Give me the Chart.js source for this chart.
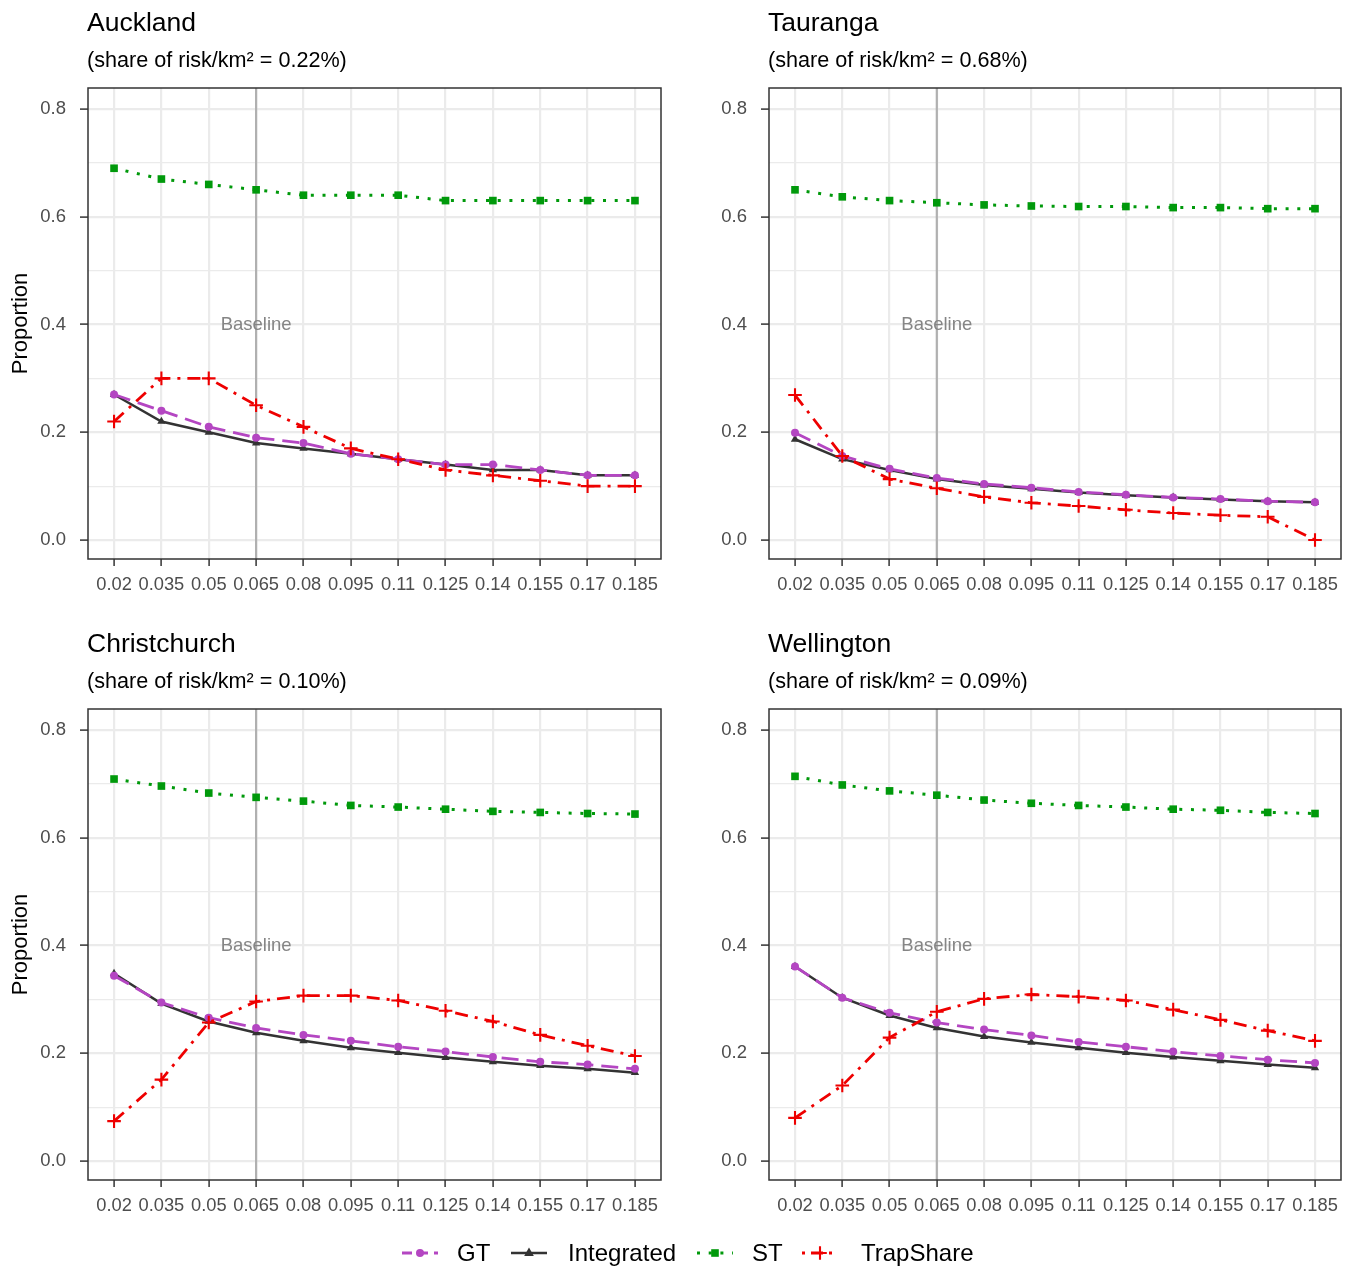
<!DOCTYPE html>
<html><head><meta charset="utf-8">
<script src="https://cdn.jsdelivr.net/npm/chart.js@4/dist/chart.umd.min.js"></script>
<style>
body{margin:0;background:#fff;width:1352px;height:1266px;position:relative;overflow:hidden;font-family:"Liberation Sans",Arial,Helvetica,sans-serif;}
canvas.p{position:absolute;}
.lt{position:absolute;font-size:24px;color:#000;line-height:30px;top:1238px;white-space:nowrap;}
canvas.lg{position:absolute;top:1238px;}
</style></head><body>
<canvas id="c1" class="p" width="676" height="621" style="left:0;top:0"></canvas>
<canvas id="c2" class="p" width="671" height="621" style="left:681px;top:0"></canvas>
<canvas id="c3" class="p" width="676" height="621" style="left:0;top:621px"></canvas>
<canvas id="c4" class="p" width="671" height="621" style="left:681px;top:621px"></canvas>

<canvas id="lg1" class="lg" width="40" height="30" style="left:400px"></canvas>
<div class="lt" style="left:457px">GT</div>
<canvas id="lg2" class="lg" width="40" height="30" style="left:509px"></canvas>
<div class="lt" style="left:568px">Integrated</div>
<canvas id="lg3" class="lg" width="40" height="30" style="left:695px"></canvas>
<div class="lt" style="left:752px">ST</div>
<canvas id="lg4" class="lg" width="40" height="30" style="left:800px"></canvas>
<div class="lt" style="left:861px">TrapShare</div>

<script>
const categories = ['0.02','0.035','0.05','0.065','0.08','0.095','0.11','0.125','0.14','0.155','0.17','0.185'];
const yTicks = [0,0.1,0.2,0.3,0.4,0.5,0.6,0.7,0.8];
const baselineIndex = 3;

const aucklandGT   = [0.27,0.24,0.21,0.19,0.18,0.16,0.15,0.14,0.14,0.13,0.12,0.12];
const aucklandInt  = [0.27,0.22,0.20,0.18,0.17,0.16,0.15,0.14,0.13,0.13,0.12,0.12];
const aucklandST   = [0.69,0.67,0.66,0.65,0.64,0.64,0.64,0.63,0.63,0.63,0.63,0.63];
const aucklandTrap = [0.22,0.30,0.30,0.25,0.21,0.17,0.15,0.13,0.12,0.11,0.10,0.10];

const taurangaGT   = [0.199,0.156,0.132,0.115,0.104,0.097,0.089,0.084,0.079,0.076,0.072,0.070];
const taurangaInt  = [0.187,0.150,0.130,0.113,0.102,0.095,0.088,0.083,0.079,0.075,0.072,0.070];
const taurangaST   = [0.650,0.637,0.630,0.626,0.622,0.620,0.619,0.619,0.617,0.617,0.615,0.615];
const taurangaTrap = [0.269,0.156,0.113,0.096,0.080,0.069,0.063,0.056,0.050,0.046,0.043,0.000];

const christGT   = [0.344,0.294,0.266,0.247,0.234,0.223,0.212,0.203,0.193,0.184,0.179,0.171];
const christInt  = [0.348,0.292,0.259,0.238,0.223,0.210,0.201,0.192,0.184,0.177,0.171,0.164];
const christST   = [0.709,0.696,0.683,0.675,0.668,0.660,0.657,0.653,0.649,0.647,0.645,0.644];
const christTrap = [0.074,0.151,0.257,0.296,0.307,0.307,0.298,0.279,0.259,0.234,0.214,0.195];

const wellGT   = [0.361,0.303,0.275,0.257,0.244,0.233,0.221,0.212,0.203,0.195,0.188,0.182];
const wellInt  = [0.361,0.303,0.270,0.247,0.231,0.220,0.210,0.201,0.193,0.186,0.179,0.173];
const wellST   = [0.714,0.698,0.687,0.679,0.670,0.664,0.660,0.657,0.653,0.651,0.647,0.645];
const wellTrap = [0.080,0.140,0.229,0.277,0.301,0.309,0.305,0.298,0.281,0.262,0.242,0.223];

const FONT = '"Liberation Sans", Arial, Helvetica, sans-serif';
const COL = {GT:'#B446C2', Int:'#333333', ST:'#00990B', Trap:'#EE0000'};

const decor = {
  id:'decor',
  beforeDatasetsDraw(chart, args, o){
    const ctx = chart.ctx, a = chart.chartArea;
    const x = chart.scales.x.getPixelForValue(baselineIndex);
    ctx.save();
    ctx.strokeStyle = '#b0b0b0'; ctx.lineWidth = 2.2;
    ctx.beginPath(); ctx.moveTo(x, a.top); ctx.lineTo(x, a.bottom); ctx.stroke();
    ctx.fillStyle = '#858585'; ctx.font = '18.5px ' + FONT;
    ctx.textAlign = 'center'; ctx.textBaseline = 'middle';
    ctx.fillText('Baseline', x, chart.scales.y.getPixelForValue(0.4));
    ctx.restore();
  },
  afterDraw(chart, args, o){
    const ctx = chart.ctx, a = chart.chartArea;
    ctx.save();
    ctx.strokeStyle = '#333333'; ctx.lineWidth = 1.5;
    ctx.strokeRect(a.left, a.top, a.right - a.left, a.bottom - a.top);
    ctx.fillStyle = '#000'; ctx.textAlign = 'left'; ctx.textBaseline = 'alphabetic';
    ctx.font = '26.5px ' + FONT;
    ctx.fillText(o.title, a.left - 1, 31);
    ctx.font = '21.6px ' + FONT;
    ctx.fillText(o.sub, a.left - 1, 67);
    if (o.ytitle) {
      ctx.translate(27, (a.top + a.bottom) / 2);
      ctx.rotate(-Math.PI / 2);
      ctx.textAlign = 'center';
      ctx.font = '22px ' + FONT;
      ctx.fillText('Proportion', 0, 0);
    }
    ctx.restore();
  }
};

function pts(arr){ return arr.map((v,i)=>({x:i, y:v})); }

function makeChart(id, title, sub, gt, integ, st, trap, ytitle, padRight){
  new Chart(document.getElementById(id), {
    type:'line',
    data:{datasets:[
      {label:'GT', data:pts(gt), borderColor:COL.GT, backgroundColor:COL.GT, borderWidth:2.8, borderDash:[17,8],
       pointStyle:'circle', pointRadius:4, pointBorderWidth:0, pointBackgroundColor:COL.GT, order:1},
      {label:'Integrated', data:pts(integ), borderColor:COL.Int, backgroundColor:COL.Int, borderWidth:2.5,
       pointStyle:'triangle', pointRadius:4.8, pointBorderWidth:0, pointBackgroundColor:COL.Int, order:2},
      {label:'ST', data:pts(st), borderColor:COL.ST, backgroundColor:COL.ST, borderWidth:3, borderDash:[3,8.7],
       pointStyle:'rect', pointRadius:5.4, pointBorderWidth:0, pointBackgroundColor:COL.ST, order:3},
      {label:'TrapShare', data:pts(trap), borderColor:COL.Trap, backgroundColor:COL.Trap, borderWidth:2.8, borderDash:[13,7,3,7],
       pointStyle:'cross', pointRadius:6.8, pointBorderWidth:2.1, pointBorderColor:COL.Trap, order:0}
    ]},
    options:{
      responsive:false, animation:false, devicePixelRatio:1,
      layout:{padding:{top:88, right:padRight, left:0, bottom:0}},
      plugins:{legend:{display:false}, tooltip:{enabled:false}, decor:{title, sub, ytitle}},
      elements:{line:{tension:0, fill:false}},
      scales:{
        x:{type:'linear', min:-0.55, max:11.55,
           afterBuildTicks:s=>{ s.ticks = categories.map((c,i)=>({value:i})); },
           afterFit:s=>{ s.height = 62; },
           ticks:{autoSkip:false, maxRotation:0, color:'#4d4d4d', font:{family:FONT, size:18.3}, padding:8,
                  callback:(v)=>categories[Math.round(v)]},
           grid:{color:'#ebebeb', lineWidth:2.2, tickColor:'#333333', tickLength:7, tickWidth:1.5},
           border:{display:false}},
        y:{type:'linear', min:-0.0353, max:0.839,
           afterBuildTicks:s=>{ s.ticks = yTicks.map(v=>({value:v})); },
           afterFit:s=>{ s.width = 88; },
           ticks:{color:'#4d4d4d', font:{family:FONT, size:18.5}, padding:14,
                  callback:(v)=> (Math.round(v*10)%2===0) ? v.toFixed(1) : ''},
           grid:{color:'#ebebeb',
                 lineWidth:c=> (c.tick && Math.round(c.tick.value*10)%2===0) ? 2.2 : 1.2,
                 tickColor:c=> (c.tick && Math.round(c.tick.value*10)%2===0) ? '#333333' : 'rgba(0,0,0,0)',
                 tickLength:8, tickWidth:1.5},
           border:{display:false}}
      }
    },
    plugins:[decor]
  });
}

makeChart('c1','Auckland','(share of risk/km² = 0.22%)', aucklandGT, aucklandInt, aucklandST, aucklandTrap, true, 15);
makeChart('c2','Tauranga','(share of risk/km² = 0.68%)', taurangaGT, taurangaInt, taurangaST, taurangaTrap, false, 11);
makeChart('c3','Christchurch','(share of risk/km² = 0.10%)', christGT, christInt, christST, christTrap, true, 15);
makeChart('c4','Wellington','(share of risk/km² = 0.09%)', wellGT, wellInt, wellST, wellTrap, false, 11);

// legend keys
function key(id, color, dash, width, marker){
  const c = document.getElementById(id), ctx = c.getContext('2d');
  ctx.strokeStyle = color; ctx.fillStyle = color; ctx.lineWidth = width; ctx.setLineDash(dash);
  ctx.beginPath(); ctx.moveTo(2, 15); ctx.lineTo(38, 15); ctx.stroke();
  ctx.setLineDash([]);
  const cx = 20, cy = 15;
  if (marker === 'circle'){ ctx.beginPath(); ctx.arc(cx, cy, 4, 0, Math.PI*2); ctx.fill(); }
  if (marker === 'triangle'){ ctx.beginPath(); ctx.moveTo(cx, cy-5.5); ctx.lineTo(cx+4.8, cy+3); ctx.lineTo(cx-4.8, cy+3); ctx.closePath(); ctx.fill(); }
  if (marker === 'rect'){ ctx.fillRect(cx-3.8, cy-3.8, 7.6, 7.6); }
  if (marker === 'cross'){ ctx.lineWidth = 2.1; ctx.beginPath(); ctx.moveTo(cx-6.8, cy); ctx.lineTo(cx+6.8, cy); ctx.moveTo(cx, cy-6.8); ctx.lineTo(cx, cy+6.8); ctx.stroke(); }
}
key('lg1', COL.GT, [10,6], 2.8, 'circle');
key('lg2', COL.Int, [], 2.5, 'triangle');
key('lg3', COL.ST, [3,8.7], 3, 'rect');
key('lg4', COL.Trap, [3,6,12,6], 2.8, 'cross');
</script>
</body></html>
